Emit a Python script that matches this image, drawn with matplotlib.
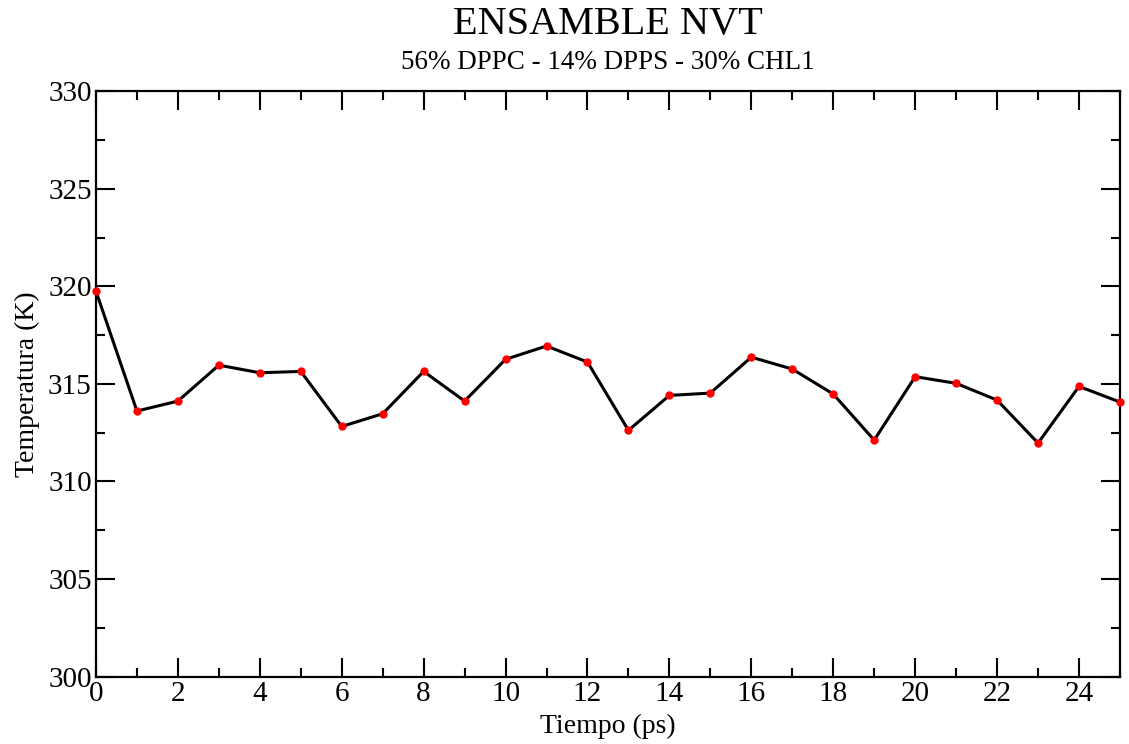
import matplotlib
matplotlib.use("Agg")
import matplotlib.pyplot as plt
from matplotlib.ticker import MultipleLocator

# --- Data ---
tiempo = list(range(26))
temperatura = [319.75, 313.61, 314.12, 315.96, 315.57, 315.64, 312.82, 313.47,
               315.64, 314.12, 316.26, 316.94, 316.12, 312.62, 314.41, 314.53,
               316.37, 315.76, 314.48, 312.12, 315.37, 315.03, 314.17, 311.97,
               314.87, 314.07]

plt.rcParams["font.family"] = ["Liberation Serif", "DejaVu Serif"]

fig = plt.figure(figsize=(11.29, 7.44), dpi=100)
ax = fig.add_axes([0.085, 0.0905, 0.907, 0.787])

ax.plot(tiempo, temperatura, color="black", linewidth=2.2, zorder=2,
        clip_on=False)
ax.plot(tiempo, temperatura, linestyle="none", marker="o", markersize=5,
        color="red", zorder=3, clip_on=False)

ax.set_xlim(0, 25)
ax.set_ylim(300, 330)
ax.xaxis.set_major_locator(MultipleLocator(2))
ax.xaxis.set_minor_locator(MultipleLocator(1))
ax.yaxis.set_major_locator(MultipleLocator(5))
ax.yaxis.set_minor_locator(MultipleLocator(2.5))

ax.tick_params(which="both", direction="in", top=True, right=True,
               width=1.5, labelsize=21, colors="black")
ax.tick_params(which="major", length=13.5, pad=3)
ax.tick_params(which="minor", length=6.8)
for s in ax.spines.values():
    s.set_linewidth(1.6)

ax.set_xlabel("Tiempo (ps)", fontsize=20, labelpad=5)
ax.set_ylabel("Temperatura (K)", fontsize=20, labelpad=6)

fig.text(0.5385, 0.967, "ENSAMBLE NVT", ha="center", va="center", fontsize=29)
fig.text(0.5385, 0.916, "56% DPPC - 14% DPPS - 30% CHL1", ha="center",
         va="center", fontsize=19.5)

fig.savefig("out.png", dpi=100)
